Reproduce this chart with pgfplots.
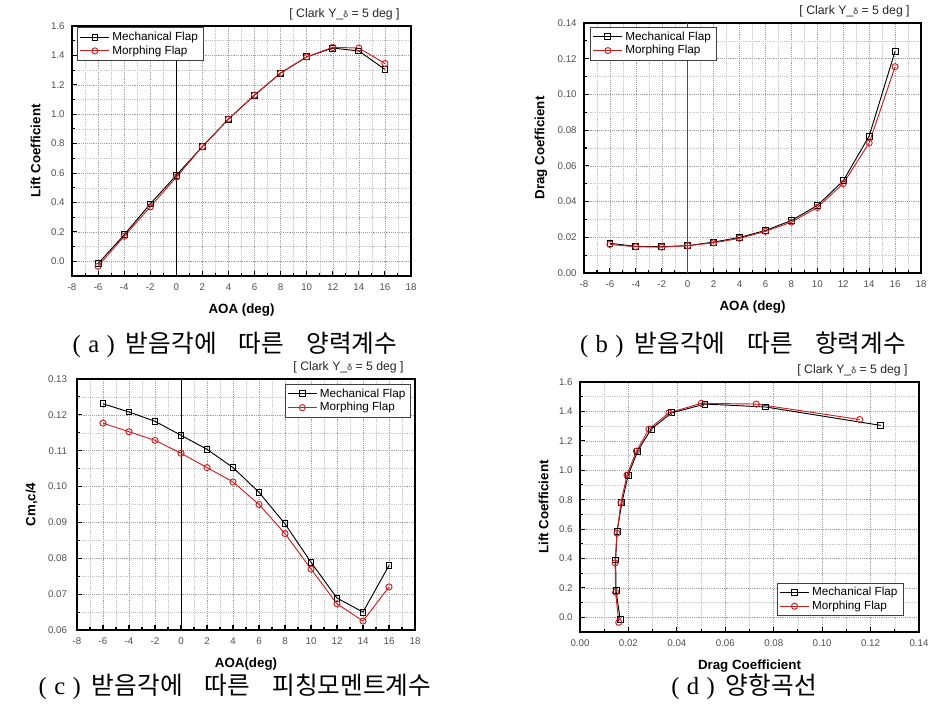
\documentclass[border=0pt]{standalone}
\usepackage{pgfplots}
\pgfplotsset{compat=1.18}
\usepackage{fontspec}
\setmainfont{Liberation Sans}
\newfontfamily\kr{Noto Sans CJK KR}
\newfontfamily\serif{Liberation Serif}
\definecolor{mred}{HTML}{CC1F1F}
\definecolor{tickgray}{HTML}{505050}

\pgfplotsset{
 panel/.style={
  scale only axis,
  axis line style={black, line width=1.1pt},
  tick align=inside,
  xtick pos=bottom, ytick pos=left,
  major tick length=4pt, minor tick length=2.2pt,
  tick style={black, line width=0.8pt},
  grid=both,
  major grid style={gray!75, densely dotted, line width=0.4pt},
  minor grid style={gray!45, densely dotted, line width=0.35pt},
  minor x tick num=1, minor y tick num=1,
  tick label style={font=\fontsize{7.3}{8}\selectfont, text=tickgray},
  xticklabel style={yshift=-2pt},
  yticklabel style={xshift=-2pt},
  /pgf/number format/assume math mode=true,
  label style={font=\fontsize{10}{11}\selectfont\bfseries},
  xlabel shift=3pt, ylabel shift=1pt,
  legend style={font=\fontsize{8.8}{10}\selectfont, draw=black!75, inner xsep=2pt, inner ysep=1.2pt, row sep=-1.5pt},
  legend cell align=left,
  legend image code/.code={\draw[mark repeat=2,mark phase=2] plot coordinates {(0cm,0cm) (0.38cm,0cm) (0.76cm,0cm)};},
  title={[ Clark Y\_{\fontsize{6.5}{7}\selectfont δ} = 5 deg ]},
  title style={at={(0.975,1)}, anchor=south east, font=\fontsize{9.2}{10}\selectfont, text=black!85, inner sep=2pt, yshift=-4pt},
 },
 aoa/.style={xmin=-8, xmax=18, xtick={-8,-6,...,18}, xlabel={AOA (deg)}},
 cl/.style={ymin=-0.1, ymax=1.6, ytick={0,0.2,0.4,0.6,0.8,1.0,1.2,1.4,1.6},
   yticklabel style={/pgf/number format/.cd, fixed, fixed zerofill, precision=1}, ylabel={Lift Coefficient}},
 mech/.style={black, line width=0.7pt, mark=square, mark size=2.2pt, mark options={fill=white, solid}},
 morph/.style={mred, line width=0.7pt, mark=o, mark size=2.3pt, mark options={fill=white, solid}},
}

\begin{document}
\begin{tikzpicture}
\fill[white] (0pt,0pt) rectangle (708.75pt,-531.75pt);

% (a)
\begin{axis}[panel, aoa, cl, at={(54pt,-207pt)}, anchor=south west, width=254.25pt, height=187.5pt,
  legend style={at={(0.015,0.995)}, anchor=north west}]
\draw[black, line width=0.6pt] (axis cs:0,-0.1) -- (axis cs:0,1.6);
\addplot[mech] coordinates {(-6,-0.016) (-4,0.18) (-2,0.39) (0,0.585) (2,0.78) (4,0.967) (6,1.13) (8,1.28) (10,1.39) (12,1.45) (14,1.43) (16,1.305)};
\addplot[morph] coordinates {(-6,-0.034) (-4,0.17) (-2,0.37) (0,0.572) (2,0.78) (4,0.967) (6,1.13) (8,1.28) (10,1.39) (12,1.455) (14,1.45) (16,1.345)};
\legend{Mechanical Flap, Morphing Flap}
\end{axis}

% (b)
\begin{axis}[panel, aoa, at={(438pt,-204.75pt)}, anchor=south west, width=252.75pt, height=187.5pt,
  ymin=0, ymax=0.14, ytick={0,0.02,0.04,0.06,0.08,0.10,0.12,0.14},
  yticklabel style={/pgf/number format/.cd, fixed, fixed zerofill, precision=2},
  ylabel={Drag Coefficient},
  legend style={at={(0.018,0.984)}, anchor=north west}]
\draw[black!70, line width=0.8pt] (axis cs:0,0) -- (axis cs:0,0.14);
\addplot[mech] coordinates {(-6,0.0166) (-4,0.0149) (-2,0.0147) (0,0.0153) (2,0.0173) (4,0.0199) (6,0.0238) (8,0.0294) (10,0.0378) (12,0.0516) (14,0.0767) (16,0.1242)};
\addplot[morph] coordinates {(-6,0.0160) (-4,0.0147) (-2,0.0145) (0,0.0153) (2,0.0169) (4,0.0194) (6,0.0233) (8,0.0285) (10,0.0367) (12,0.0501) (14,0.0728) (16,0.1155)};
\legend{Mechanical Flap, Morphing Flap}
\end{axis}

% (c)
\begin{axis}[panel, aoa, at={(57.75pt,-472.5pt)}, anchor=south west, width=253.5pt, height=188.25pt,
  xlabel={AOA(deg)}, yticklabel style={xshift=-2pt},
  ymin=0.06, ymax=0.13, ytick={0.06,0.07,0.08,0.09,0.10,0.11,0.12,0.13},
  yticklabel style={/pgf/number format/.cd, fixed, fixed zerofill, precision=2},
  ylabel={Cm,c/4},
  legend style={at={(0.988,0.98)}, anchor=north east}]
\draw[black, line width=0.6pt] (axis cs:0,0.06) -- (axis cs:0,0.13);
\addplot[mech] coordinates {(-6,0.1231) (-4,0.1208) (-2,0.1182) (0,0.1143) (2,0.1104) (4,0.1053) (6,0.0984) (8,0.0896) (10,0.0789) (12,0.0689) (14,0.0650) (16,0.0780)};
\addplot[morph] coordinates {(-6,0.1177) (-4,0.1153) (-2,0.1129) (0,0.1093) (2,0.1053) (4,0.1013) (6,0.0950) (8,0.0869) (10,0.0770) (12,0.0673) (14,0.0625) (16,0.0720)};
\legend{Mechanical Flap, Morphing Flap}
\end{axis}

% (d)
\begin{axis}[panel, cl, at={(435pt,-474pt)}, anchor=south west, width=254.25pt, height=187.5pt,
  xmin=0, xmax=0.14, xtick={0,0.02,0.04,0.06,0.08,0.10,0.12,0.14},
  xticklabel style={/pgf/number format/.cd, fixed, fixed zerofill, precision=2},
  xlabel={Drag Coefficient},
  legend style={at={(0.953,0.064)}, anchor=south east}]
\addplot[mech] coordinates {(0.0166,-0.016) (0.0149,0.18) (0.0147,0.39) (0.0153,0.585) (0.0173,0.78) (0.0199,0.967) (0.0238,1.13) (0.0294,1.28) (0.0378,1.39) (0.0516,1.45) (0.0767,1.43) (0.1242,1.305)};
\addplot[morph] coordinates {(0.0160,-0.034) (0.0147,0.17) (0.0145,0.37) (0.0153,0.572) (0.0169,0.78) (0.0194,0.967) (0.0233,1.13) (0.0285,1.28) (0.0367,1.39) (0.0501,1.455) (0.0728,1.45) (0.1155,1.345)};
\legend{Mechanical Flap, Morphing Flap}
\end{axis}

% captions
\tikzset{captext/.style={font=\fontsize{18.5}{22}\selectfont}}
\node[captext] at (176.25pt,-258.75pt) {{\serif(\hspace{0.3em}a\hspace{0.3em})}\hspace{0.45em}{\kr 받음각에\hspace{0.9em}따른\hspace{0.9em}양력계수}};
\node[captext] at (557.25pt,-258.75pt) {{\serif(\hspace{0.3em}b\hspace{0.3em})}\hspace{0.45em}{\kr 받음각에\hspace{0.9em}따른\hspace{0.9em}항력계수}};
\node[captext] at (176.25pt,-515.25pt) {{\serif(\hspace{0.3em}c\hspace{0.3em})}\hspace{0.45em}{\kr 받음각에\hspace{0.9em}따른\hspace{0.9em}피칭모멘트계수}};
\node[captext] at (558pt,-515.25pt) {{\serif(\hspace{0.3em}d\hspace{0.3em})}\hspace{0.45em}{\kr 양항곡선}};
\end{tikzpicture}
\end{document}
